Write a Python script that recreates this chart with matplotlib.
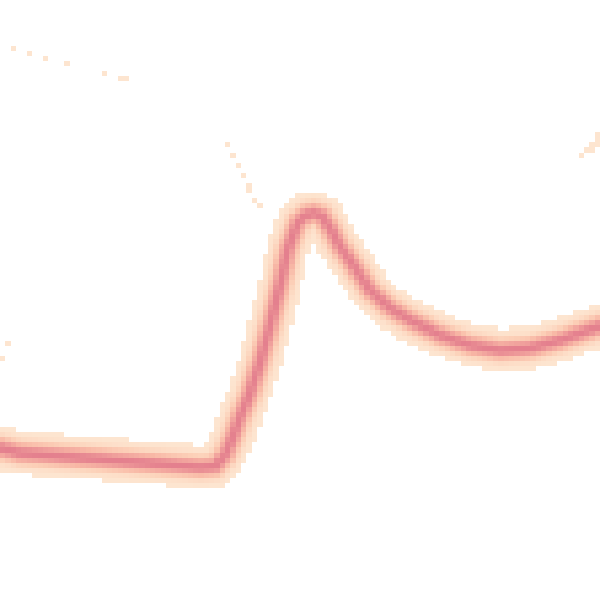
import numpy as np
import matplotlib.pyplot as plt
from matplotlib.colors import LinearSegmentedColormap, PowerNorm

# centre line of the dense band (time, value)
curve_t = np.array([0, 20, 60, 100, 150, 200, 215, 225, 233, 240, 250, 260, 270, 280,
                    288, 298, 306, 314, 322, 330, 340, 355, 370, 390, 410, 440, 470, 500,
                    530, 560, 600])
curve_v = np.array([152, 147, 144, 141, 137, 133, 134, 145, 163, 183, 207, 238, 275, 315,
                    352, 378, 385, 387, 384, 372, 353, 332, 310, 292, 280, 265, 255, 250,
                    252, 260, 274])

# isolated low-count cells
stray_t = [13, 29, 46, 67, 105, 119, 124,
           229, 235, 240, 246, 251, 251, 256, 262,
           581, 587, 592, 592, 597, 597, 597,
           7, 2]
stray_v = [554, 549, 544, 538, 527, 522, 522,
           457, 446, 435, 425, 413, 408, 400, 392,
           446, 452, 452, 457, 457, 462, 467,
           257, 242]

nx, ny = 112, 118
spread = 9.0

t_edges = np.linspace(0, 600, nx + 1)
v_edges = np.linspace(0, 600, ny + 1)
tc = (t_edges[:-1] + t_edges[1:]) / 2
vc = (v_edges[:-1] + v_edges[1:]) / 2
T, V = np.meshgrid(tc, vc)
P = np.stack([T.ravel(), V.ravel()], 1)

# distance of every cell to the centre line
A = np.stack([curve_t[:-1], curve_v[:-1]], 1).astype(float)
B = np.stack([curve_t[1:], curve_v[1:]], 1).astype(float)
d = np.full(len(P), np.inf)
for a, b in zip(A, B):
    ab = b - a
    s = np.clip(((P - a) @ ab) / (ab @ ab), 0, 1)
    proj = a + s[:, None] * ab
    d = np.minimum(d, np.hypot(*(P - proj).T))
dens = np.exp(-d**2 / (2 * spread**2)).reshape(T.shape)

extra, _, _ = np.histogram2d(stray_v, stray_t, bins=[v_edges, t_edges])
dens = np.where(extra > 0, np.maximum(dens, 0.07), dens)
dens = np.ma.masked_less(dens, 0.06)

cmap = LinearSegmentedColormap.from_list(
    'band', ['#fde5d0', '#fcd0b8', '#f8b8a6', '#f0a09c', '#e4808e'])

fig = plt.figure(figsize=(6, 6), dpi=100)
ax = fig.add_axes([0, 0, 1, 1])
ax.pcolormesh(t_edges, v_edges, dens, cmap=cmap,
              norm=PowerNorm(gamma=1.6, vmin=0.06, vmax=1.0))
ax.set_xlim(0, 600)
ax.set_ylim(0, 600)
ax.axis('off')
fig.savefig('out.png', dpi=100, facecolor='white')
